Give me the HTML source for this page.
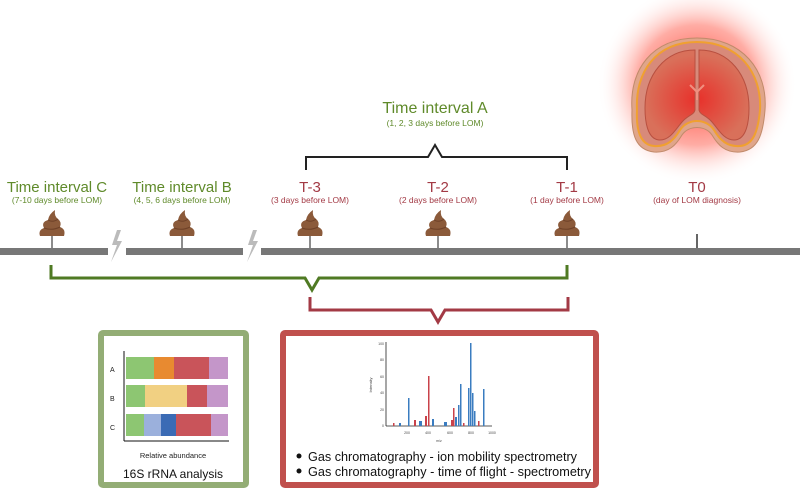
<!DOCTYPE html>
<html><head><style>
body{margin:0;background:#fff;}
svg{display:block;font-family:"Liberation Sans",sans-serif;}
</style></head><body>
<svg width="800" height="492" viewBox="0 0 800 492">
<defs>
<radialGradient id="glow" cx="50%" cy="50%" r="50%">
<stop offset="0" stop-color="#ff2a1a" stop-opacity="0.95"/>
<stop offset="0.6" stop-color="#ff5a4a" stop-opacity="0.5"/>
<stop offset="1" stop-color="#ffffff" stop-opacity="0"/>
</radialGradient>
<radialGradient id="core" cx="50%" cy="55%" r="50%">
<stop offset="0" stop-color="#e8302a"/>
<stop offset="1" stop-color="#d9705a"/>
</radialGradient>
<g id="poop">
<line x1="0" y1="0" x2="0" y2="12" stroke="#666" stroke-width="1.5"/>
<path d="M-12,0 Q-14,-6 -8,-8 Q-11,-14 -4,-16 Q-3,-22 3,-26 Q2,-20 6,-17 Q10,-14 8,-9 Q14,-7 12,0 Z" fill="#8b5a3a"/>
<path d="M-8,-8 Q0,-5 8,-9 M-4,-16 Q1,-13 6,-17" stroke="#6e4128" stroke-width="1" fill="none"/>
</g>
</defs>
<!-- brain -->
<circle cx="697" cy="85" r="100" fill="url(#glow)"/>
<path d="M697,38 C742,38 768,70 765,110 C763,135 758,150 740,152 C725,153 718,145 712,135 C705,125 689,125 682,135 C676,145 669,153 654,152 C636,150 631,135 632,110 C629,70 652,38 697,38Z" fill="#e0a58a" stroke="#c08a6a" stroke-width="1"/>
<path d="M697,42 C738,42 762,72 760,110 C758,132 753,145 740,146 C727,147 720,140 714,130 C706,118 688,118 680,130 C674,140 667,147 654,146 C641,145 636,132 637,110 C635,72 656,42 697,42Z" fill="#d88a7a" stroke="#f0a030" stroke-width="2"/>
<path d="M695,50 C665,50 645,75 645,108 C645,128 650,140 660,140 C670,140 675,130 682,122 C688,115 694,115 695,110Z M699,50 C729,50 749,75 749,108 C749,128 744,140 734,140 C724,140 719,130 712,122 C706,115 700,115 699,110Z" fill="url(#core)" stroke="#b85040" stroke-width="1"/>
<path d="M690,85 L697,92 L704,85 M697,92 L697,100" stroke="#f09080" stroke-width="2" fill="none"/>
<!-- top bracket -->
<path d="M306,170 L306,157 L428,157 L435,145 L442,157 L567,157 L567,170" fill="none" stroke="#222" stroke-width="2"/>
<text x="435" y="113" fill="#5f8a2a" font-size="16" text-anchor="middle">Time interval A</text>
<text x="435" y="126" fill="#5f8a2a" font-size="8.5" text-anchor="middle">(1, 2, 3 days before LOM)</text>
<!-- labels -->
<g text-anchor="middle">
<text x="57" y="192" fill="#5f8a2a" font-size="15">Time interval C</text>
<text x="57" y="203" fill="#5f8a2a" font-size="8.5">(7-10 days before LOM)</text>
<text x="182" y="192" fill="#5f8a2a" font-size="15">Time interval B</text>
<text x="182" y="203" fill="#5f8a2a" font-size="8.5">(4, 5, 6 days before LOM)</text>
<text x="310" y="192" fill="#a33a45" font-size="15">T-3</text>
<text x="310" y="203" fill="#a33a45" font-size="8.5">(3 days before LOM)</text>
<text x="438" y="192" fill="#a33a45" font-size="15">T-2</text>
<text x="438" y="203" fill="#a33a45" font-size="8.5">(2 days before LOM)</text>
<text x="567" y="192" fill="#a33a45" font-size="15">T-1</text>
<text x="567" y="203" fill="#a33a45" font-size="8.5">(1 day before LOM)</text>
<text x="697" y="192" fill="#a33a45" font-size="15">T0</text>
<text x="697" y="203" fill="#a33a45" font-size="8.5">(day of LOM diagnosis)</text>
</g>
<!-- timeline -->
<rect x="0" y="248" width="108" height="7" fill="#777"/>
<rect x="126" y="248" width="117" height="7" fill="#777"/>
<rect x="261" y="248" width="539" height="7" fill="#777"/>
<path d="M117,230 L112,245 L117,245 L111,262 L122,241 L117,241 L121,230Z" fill="#bbb"/>
<path d="M253,230 L248,245 L253,245 L247,262 L258,241 L253,241 L257,230Z" fill="#bbb"/>
<line x1="697" y1="234" x2="697" y2="248" stroke="#666" stroke-width="2"/>
<use href="#poop" x="52" y="236"/>
<use href="#poop" x="182" y="236"/>
<use href="#poop" x="310" y="236"/>
<use href="#poop" x="438" y="236"/>
<use href="#poop" x="567" y="236"/>
<!-- green bracket -->
<path d="M51,265 L51,278 L305,278 L312,290 L319,278 L567,278 L567,265" fill="none" stroke="#4f7a23" stroke-width="3"/>
<!-- red bracket -->
<path d="M310,297 L310,310 L431,310 L438,322 L445,310 L568,310 L568,297" fill="none" stroke="#a33a45" stroke-width="3"/>
<!-- green box -->
<rect x="101" y="333" width="145" height="152" fill="#fff" stroke="#93ad75" stroke-width="6" rx="2"/>
<line x1="124" y1="351" x2="124" y2="441" stroke="#111" stroke-width="1"/>
<line x1="124" y1="441" x2="229" y2="441" stroke="#111" stroke-width="1"/>
<g font-size="7" fill="#222"><text x="110" y="372">A</text><text x="110" y="401">B</text><text x="110" y="430">C</text></g>
<rect x="126" y="357" width="28" height="22" fill="#8dc672"/><rect x="154" y="357" width="20" height="22" fill="#e88a30"/><rect x="174" y="357" width="35" height="22" fill="#c9545a"/><rect x="209" y="357" width="19" height="22" fill="#c496c9"/>
<rect x="126" y="385" width="19" height="22" fill="#8dc672"/><rect x="145" y="385" width="42" height="22" fill="#f1d082"/><rect x="187" y="385" width="20" height="22" fill="#c9545a"/><rect x="207" y="385" width="21" height="22" fill="#c496c9"/>
<rect x="126" y="414" width="18" height="22" fill="#8dc672"/><rect x="144" y="414" width="17" height="22" fill="#9bb0dc"/><rect x="161" y="414" width="15" height="22" fill="#3b6bb5"/><rect x="176" y="414" width="35" height="22" fill="#c9545a"/><rect x="211" y="414" width="17" height="22" fill="#c496c9"/>
<text x="173" y="458" font-size="7.5" fill="#222" text-anchor="middle">Relative abundance</text>
<text x="173" y="478" font-size="12" fill="#111" text-anchor="middle">16S rRNA analysis</text>
<!-- red box -->
<rect x="283" y="333" width="313" height="152" fill="#fff" stroke="#c0504d" stroke-width="6" rx="2"/>
<line x1="386" y1="342" x2="386" y2="426" stroke="#222" stroke-width="0.8"/>
<line x1="386" y1="426" x2="492" y2="426" stroke="#222" stroke-width="0.8"/>
<g font-size="3.5" fill="#444" text-anchor="end"><text x="384" y="345">100</text><text x="384" y="361">80</text><text x="384" y="378">60</text><text x="384" y="394">40</text><text x="384" y="411">20</text><text x="384" y="427">0</text></g>
<g font-size="3.5" fill="#444" text-anchor="middle"><text x="407" y="434">200</text><text x="428" y="434">400</text><text x="450" y="434">600</text><text x="471" y="434">800</text><text x="492" y="434">1000</text><text x="439" y="442">m/z</text></g>
<text x="372" y="385" font-size="4" fill="#444" transform="rotate(-90 372 385)" text-anchor="middle">Intensity</text>
<g fill="#3a7cc0">
<rect x="408" y="398" width="1.5" height="28"/><rect x="399" y="423" width="2" height="3"/><rect x="419" y="421" width="3" height="5"/><rect x="432" y="419" width="2" height="7"/><rect x="444" y="422" width="3" height="4"/><rect x="455" y="417" width="2" height="9"/><rect x="458" y="405" width="1.5" height="21"/><rect x="460" y="384" width="1.5" height="42"/><rect x="468" y="388" width="1.5" height="38"/><rect x="470" y="343" width="1.5" height="83"/><rect x="472" y="393" width="1.5" height="33"/><rect x="474" y="411" width="1.5" height="15"/><rect x="483" y="389" width="1.5" height="37"/>
</g>
<g fill="#c9424a">
<rect x="393" y="423" width="1.5" height="3"/><rect x="414" y="420" width="2" height="6"/><rect x="425" y="416" width="2" height="10"/><rect x="428" y="376" width="1.5" height="50"/><rect x="451" y="420" width="2" height="6"/><rect x="453" y="408" width="1.5" height="18"/><rect x="463" y="423" width="1.5" height="3"/><rect x="478" y="421" width="1.5" height="5"/>
</g>
<g font-size="13" fill="#111">
<circle cx="299" cy="456" r="2.5"/><text x="308" y="461" textLength="269" lengthAdjust="spacingAndGlyphs">Gas chromatography - ion mobility spectrometry</text>
<circle cx="299" cy="471" r="2.5"/><text x="308" y="476" textLength="283" lengthAdjust="spacingAndGlyphs">Gas chromatography - time of flight - spectrometry</text>
</g>
</svg>
</body></html>
